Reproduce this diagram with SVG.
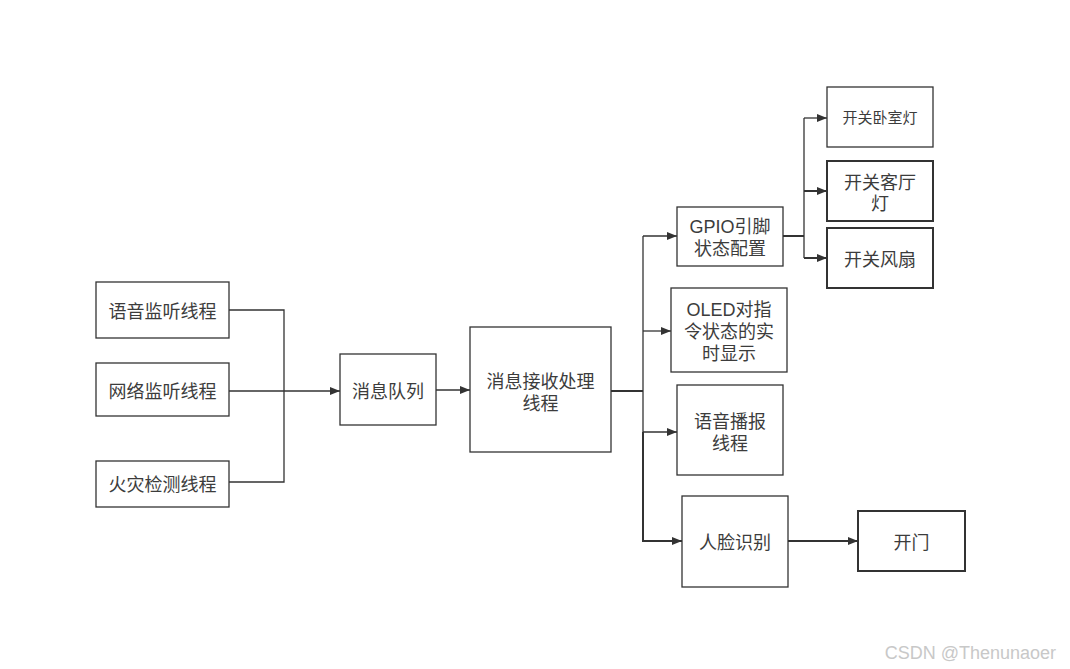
<svg xmlns="http://www.w3.org/2000/svg" width="1070" height="669" viewBox="0 0 1070 669">
<style>
.box{fill:#fff;stroke:#333;stroke-width:1.3}
.bold{stroke-width:2}
.t{font-family:"Liberation Sans","Noto Sans CJK SC",sans-serif;font-size:18px;fill:#3c3c3c;text-anchor:middle;dominant-baseline:central}
.s{font-size:15px}
.c{fill:none;stroke:#333;stroke-width:1.3}
.wm{font-family:"Liberation Sans",Arial,sans-serif;font-size:18px;fill:#c8c8c8;text-anchor:end}
</style>
<defs>
<marker id="a" viewBox="0 0 10 10" refX="10" refY="5" markerWidth="10" markerHeight="10" markerUnits="userSpaceOnUse" orient="auto">
<path d="M0,1 L10,5 L0,9 Z" fill="#333"/>
</marker>
</defs>
<rect width="1070" height="669" fill="#fff"/>
<g id="connectors">
<path class="c" d="M229,310 H284 V482 H229"/>
<path class="c" d="M229,391 H340" marker-end="url(#a)"/>
<path class="c" d="M436,390 H470" marker-end="url(#a)"/>
<path class="c" style="stroke-width:2" d="M611,391 H643"/>
<path class="c" d="M643,236 V541"/>
<path class="c" d="M643,236 H677" marker-end="url(#a)"/>
<path class="c" d="M643,331 H671" marker-end="url(#a)"/>
<path class="c" d="M643,432 H677" marker-end="url(#a)"/>
<path class="c" style="stroke-width:2" d="M643,432 V541 H682" marker-end="url(#a)"/>
<path class="c" style="stroke-width:2" d="M788,541 H858" marker-end="url(#a)"/>
<path class="c" style="stroke-width:2" d="M783,236 H804"/>
<path class="c" d="M804,118 V258"/>
<path class="c" d="M804,118 H827" marker-end="url(#a)"/>
<path class="c" style="stroke-width:2" d="M804,191 H827" marker-end="url(#a)"/>
<path class="c" style="stroke-width:2" d="M804,258 H827" marker-end="url(#a)"/>
</g>
<g id="n1"><rect class="box" x="96" y="282" width="133" height="56"/><text class="t" x="162.5" y="312">语音监听线程</text></g>
<g id="n2"><rect class="box" x="96" y="363" width="133" height="53"/><text class="t" x="162.5" y="392">网络监听线程</text></g>
<g id="n3"><rect class="box" x="96" y="461" width="133" height="46"/><text class="t" x="162.5" y="485">火灾检测线程</text></g>
<g id="n4"><rect class="box" x="340" y="354" width="96" height="71"/><text class="t" x="388" y="392">消息队列</text></g>
<g id="n5"><rect class="box" x="470" y="327" width="141" height="125"/><text class="t" x="540.5" y="382"><tspan x="540.5">消息接收处理</tspan><tspan x="540.5" dy="22">线程</tspan></text></g>
<g id="n6"><rect class="box" x="677" y="207" width="106" height="59"/><text class="t" x="730" y="227"><tspan x="730">GPIO引脚</tspan><tspan x="730" dy="22">状态配置</tspan></text></g>
<g id="n7"><rect class="box" x="671" y="288" width="116" height="84"/><text class="t" x="729" y="310"><tspan x="729">OLED对指</tspan><tspan x="729" dy="22">令状态的实</tspan><tspan x="729" dy="22">时显示</tspan></text></g>
<g id="n8"><rect class="box" x="677" y="385" width="106" height="90"/><text class="t" x="730" y="422"><tspan x="730">语音播报</tspan><tspan x="730" dy="22">线程</tspan></text></g>
<g id="n9"><rect class="box" x="682" y="496" width="106" height="91"/><text class="t" x="735" y="543">人脸识别</text></g>
<g id="n10"><rect class="box bold" x="858" y="511" width="107" height="60"/><text class="t" x="911.5" y="543">开门</text></g>
<g id="n11"><rect class="box" x="827" y="87" width="106" height="60"/><text class="t s" x="880" y="117">开关卧室灯</text></g>
<g id="n12"><rect class="box bold" x="827" y="161" width="106" height="60"/><text class="t" x="880" y="183"><tspan x="880">开关客厅</tspan><tspan x="880" dy="21">灯</tspan></text></g>
<g id="n13"><rect class="box bold" x="827" y="228" width="106" height="60"/><text class="t" x="880" y="260">开关风扇</text></g>
<text class="wm" x="1056" y="659">CSDN @Thenunaoer</text>
</svg>
